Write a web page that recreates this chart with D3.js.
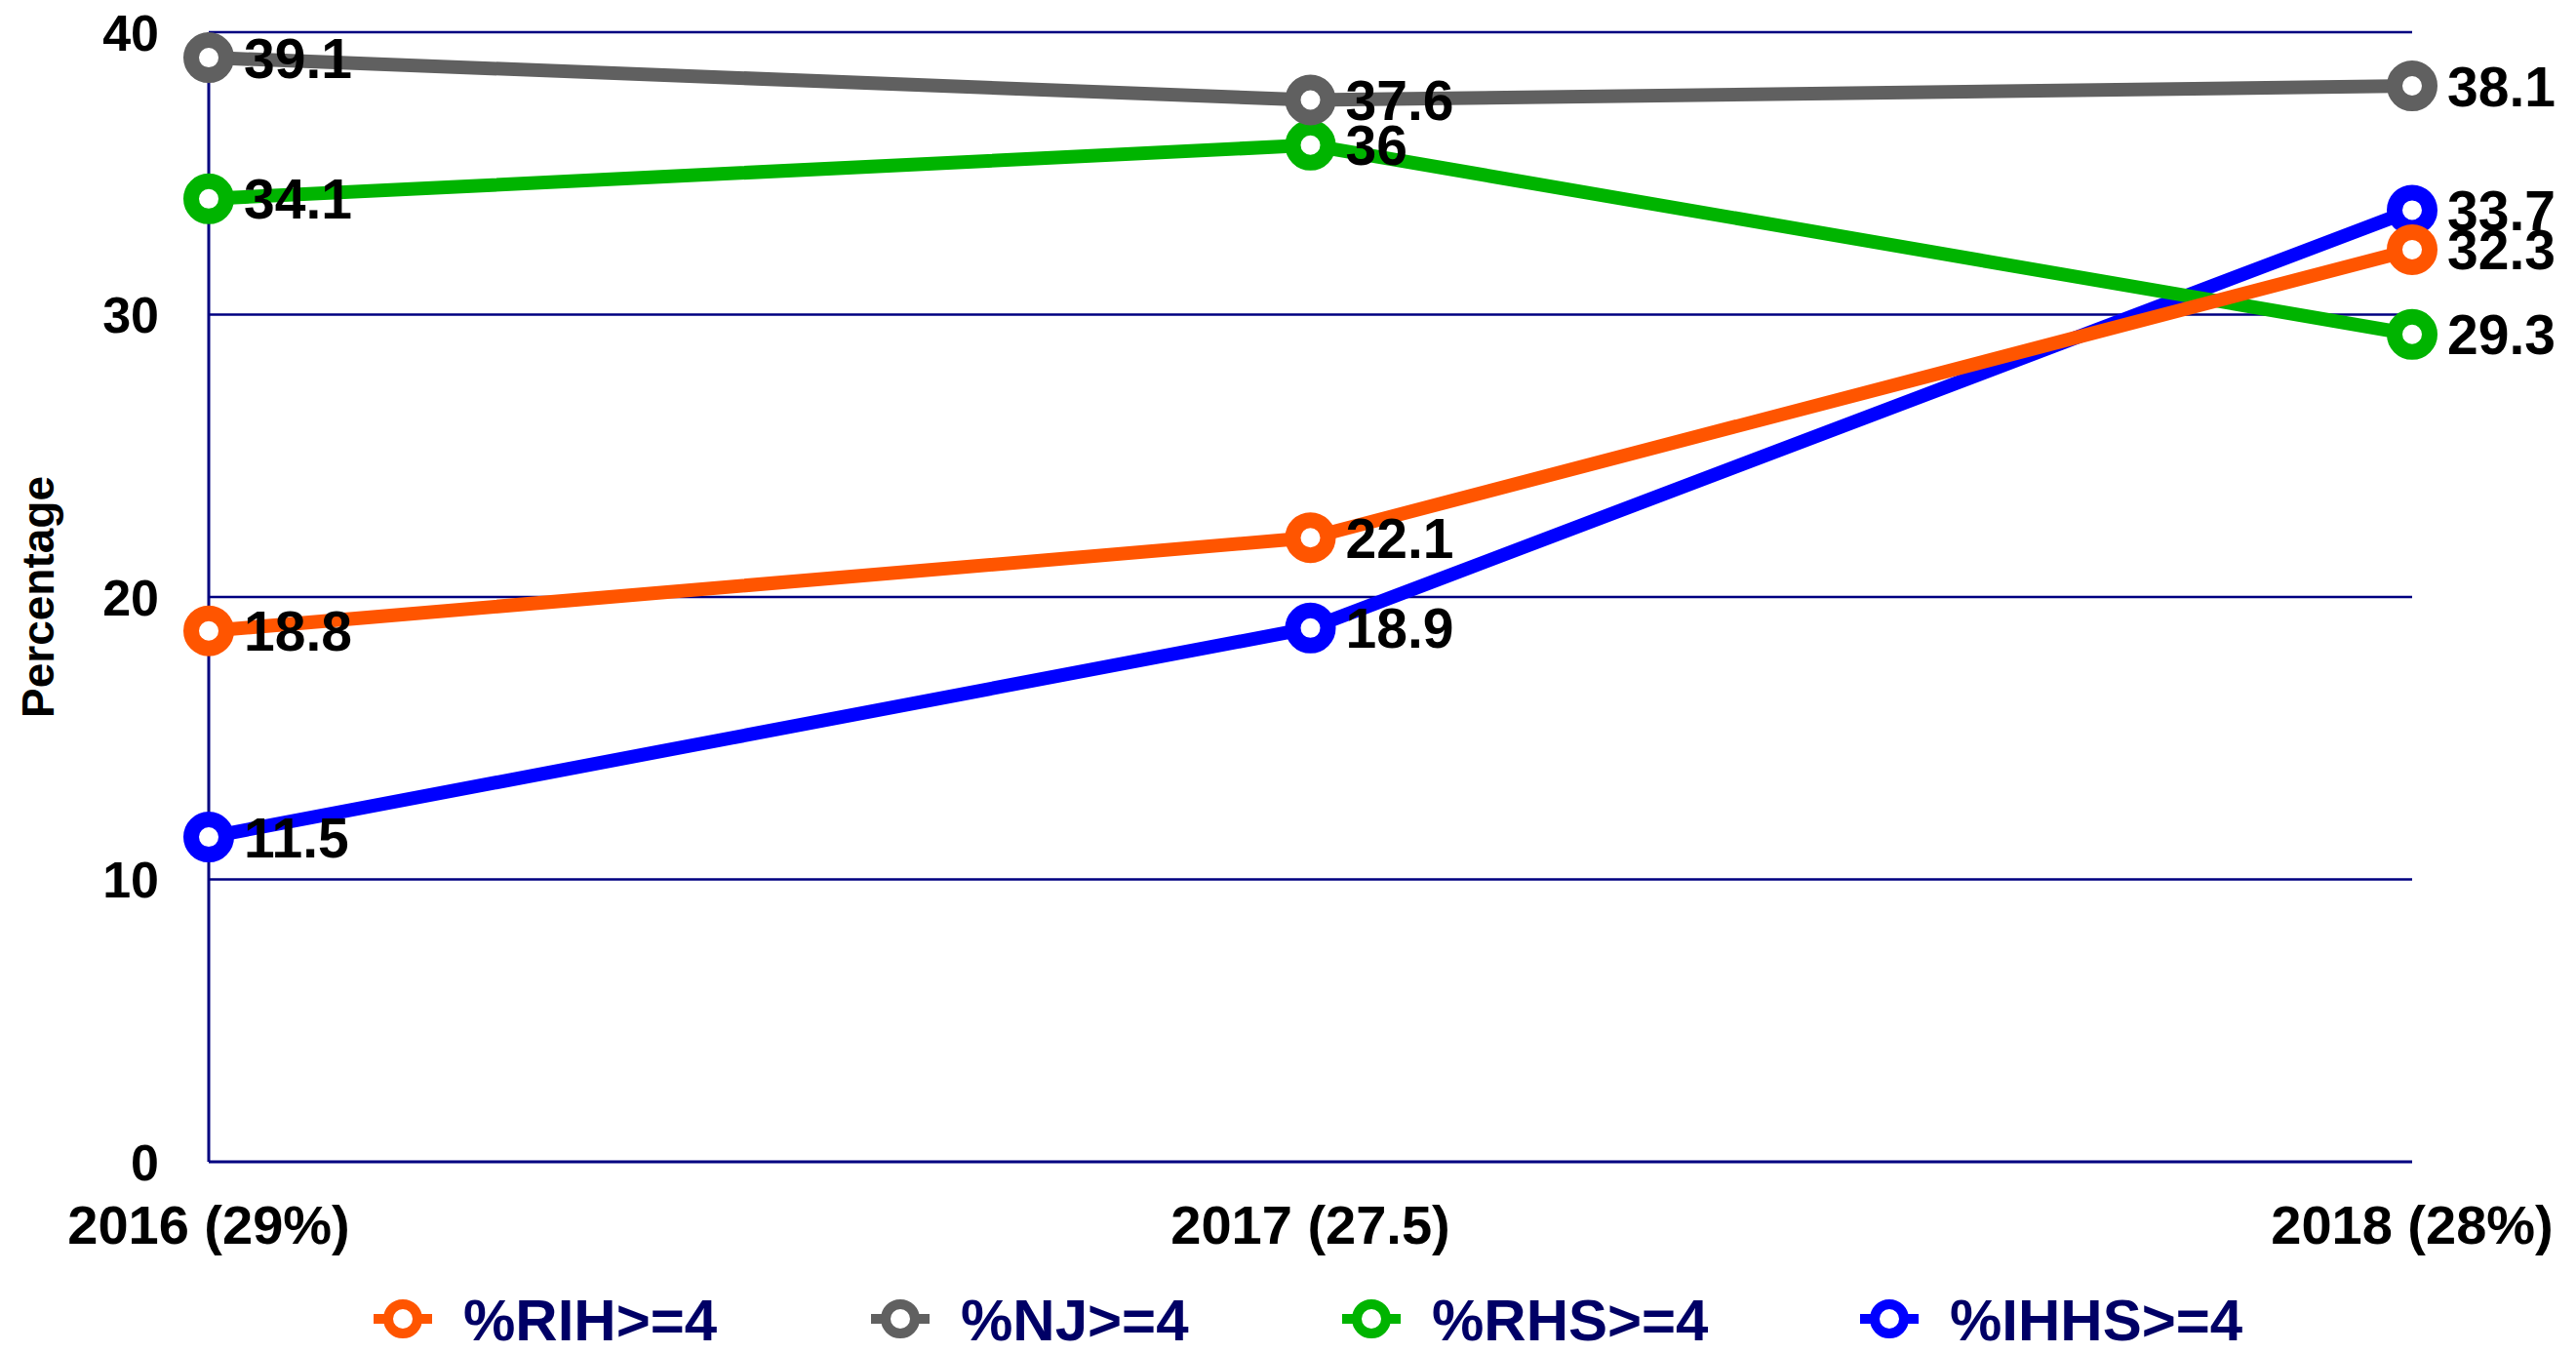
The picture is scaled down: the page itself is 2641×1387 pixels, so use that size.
<!DOCTYPE html>
<html>
<head>
<meta charset="utf-8">
<script src="https://cdn.jsdelivr.net/npm/d3@7"></script>
<style>
  body { margin: 0; background: #fff; }
  svg text { font-family: "Liberation Sans", Arial, sans-serif; font-weight: bold; }
</style>
</head>
<body>
<div id="chart"></div>
<script>
const years = ["2016 (29%)", "2017 (27.5)", "2018 (28%)"];
const seriesNames = ["%RIH>=4", "%NJ>=4", "%RHS>=4", "%IHHS>=4"];
const seriesColors = ["#ff5500", "#606060", "#00b400", "#0000ff"];
const rihValues = [18.8, 22.1, 32.3];
const njValues = [39.1, 37.6, 38.1];
const rhsValues = [34.1, 36, 29.3];
const ihhsValues = [11.5, 18.9, 33.7];
const yTicks = [0, 10, 20, 30, 40];

const series = [rihValues, njValues, rhsValues, ihhsValues].map((v, i) => ({
    name: seriesNames[i], color: seriesColors[i], values: v
}));

const width = 2641, height = 1387;
const margin = { left: 214, right: 168, top: 33, bottom: 196 };

const svg = d3.select("#chart").append("svg")
    .attr("width", width)
    .attr("height", height);

const x = d3.scalePoint()
    .domain(years)
    .range([margin.left, width - margin.right]);

const y = d3.scaleLinear()
    .domain([0, 40])
    .range([height - margin.bottom, margin.top]);

const navy = "#000080";

// gridlines
svg.append("g")
    .selectAll("line")
    .data(yTicks.filter(t => t > 0))
    .enter().append("line")
    .attr("x1", margin.left)
    .attr("x2", width - margin.right)
    .attr("y1", d => y(d))
    .attr("y2", d => y(d))
    .attr("stroke", navy)
    .attr("stroke-width", 2.5);

// axes lines
svg.append("line")
    .attr("x1", margin.left).attr("x2", margin.left)
    .attr("y1", y(40)).attr("y2", y(0))
    .attr("stroke", navy).attr("stroke-width", 3);
svg.append("line")
    .attr("x1", margin.left).attr("x2", width - margin.right)
    .attr("y1", y(0)).attr("y2", y(0))
    .attr("stroke", navy).attr("stroke-width", 3);

// y tick labels
svg.append("g")
    .selectAll("text")
    .data(yTicks)
    .enter().append("text")
    .attr("x", 163)
    .attr("y", d => y(d))
    .attr("dy", "0.36em")
    .attr("text-anchor", "end")
    .attr("font-size", 52)
    .attr("fill", "#000")
    .text(d => d);

// x tick labels
svg.append("g")
    .selectAll("text")
    .data(years)
    .enter().append("text")
    .attr("x", d => x(d))
    .attr("y", 1275)
    .attr("text-anchor", "middle")
    .attr("font-size", 56)
    .attr("fill", "#000")
    .text(d => d);

// y axis title
svg.append("text")
    .attr("transform", "translate(55," + y(20) + ") rotate(-90)")
    .attr("text-anchor", "middle")
    .attr("font-size", 46)
    .attr("fill", "#000")
    .text("Percentage");

const line = d3.line()
    .x((d, i) => x(years[i]))
    .y(d => y(d));

// draw from last to first so the first series sits on top
const drawOrder = series.slice().reverse();

const seriesGroup = svg.append("g")
    .selectAll("g")
    .data(drawOrder)
    .enter().append("g");

seriesGroup.append("path")
    .attr("d", d => line(d.values))
    .attr("fill", "none")
    .attr("stroke", d => d.color)
    .attr("stroke-width", 14)
    .attr("stroke-linejoin", "round");

seriesGroup.selectAll("circle")
    .data(d => d.values.map(v => ({ v, color: d.color })))
    .enter().append("circle")
    .attr("cx", (d, i) => x(years[i]))
    .attr("cy", d => y(d.v))
    .attr("r", 18)
    .attr("fill", "#fff")
    .attr("stroke", d => d.color)
    .attr("stroke-width", 16);

// data labels
svg.append("g")
    .selectAll("g")
    .data(drawOrder)
    .enter().append("g")
    .selectAll("text")
    .data(d => d.values)
    .enter().append("text")
    .attr("x", (d, i) => x(years[i]) + 36)
    .attr("y", d => y(d))
    .attr("dy", "0.36em")
    .attr("font-size", 57)
    .attr("fill", "#000")
    .text(d => d);

// legend
const legendX = [413, 923, 1406, 1937];
const legendY = 1352;
const legend = svg.append("g")
    .selectAll("g")
    .data(series)
    .enter().append("g")
    .attr("transform", (d, i) => "translate(" + legendX[i] + "," + legendY + ")");

legend.append("line")
    .attr("x1", -30).attr("x2", 30)
    .attr("stroke", d => d.color)
    .attr("stroke-width", 10);

legend.append("circle")
    .attr("r", 15)
    .attr("fill", "#fff")
    .attr("stroke", d => d.color)
    .attr("stroke-width", 10);

legend.append("text")
    .attr("x", 62)
    .attr("dy", "0.36em")
    .attr("font-size", 60)
    .attr("fill", "#000066")
    .text(d => d.name);
</script>
</body>
</html>
